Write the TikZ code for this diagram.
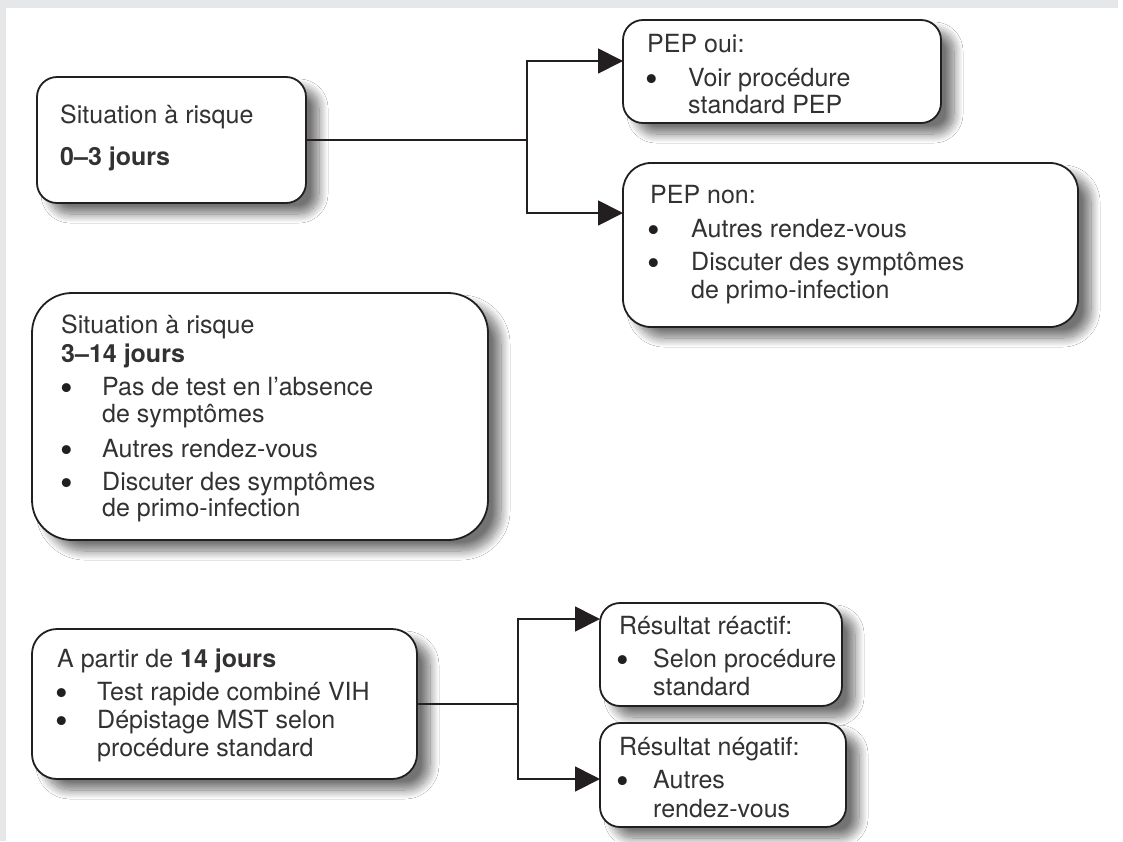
\documentclass[tikz,border=0pt]{standalone}
\usepackage{fontspec}
\setmainfont{TeX Gyre Heros}
\usetikzlibrary{arrows.meta,shadows.blur}
\definecolor{bggray}{HTML}{E6E7E8}
\definecolor{ink}{HTML}{231F20}
\definecolor{txtc}{HTML}{333132}
\begin{document}
\begin{tikzpicture}[x=1pt,y=-1pt,
  box/.style={draw=ink, line width=1.8pt, fill=white, rectangle, anchor=north west,
    inner sep=0pt, outer sep=0pt,
    blur shadow={shadow xshift=13pt, shadow yshift=-11pt, shadow blur radius=9pt,
      shadow blur steps=14, shadow opacity=55}},
  txt/.style={anchor=base west, inner sep=0pt, text=txtc, font=\fontsize{25}{29}\selectfont},
  bul/.style={anchor=center, inner sep=0pt, yshift=-6pt, text=ink, font=\fontsize{36}{36}\selectfont},
  conn/.style={draw=ink, line width=1.8pt},
  arr/.style={conn, {Triangle[length=25pt,width=25pt]}-{Triangle[length=25pt,width=25pt]}}]

\useasboundingbox (0,0) rectangle (1123,841);
\fill[white] (0,0) rectangle (1123,841);
\fill[bggray] (0,0) rectangle (1118,8);
\fill[bggray] (0,0) rectangle (6,841);

% boxes
\node[box, rounded corners=20pt, minimum width=269pt, minimum height=126pt] (b1) at (37,77) {};
\node[box, rounded corners=20pt, minimum width=318pt, minimum height=103pt] (b2) at (623,20) {};
\node[box, rounded corners=28pt, minimum width=455pt, minimum height=164pt] (b3) at (623,163) {};
\node[box, rounded corners=40pt, minimum width=456pt, minimum height=247pt] (b4) at (32,293) {};
\node[box, rounded corners=25pt, minimum width=385pt, minimum height=150pt] (b5) at (32,629) {};
\node[box, rounded corners=20pt, minimum width=242pt, minimum height=103pt] (b6) at (600,603) {};
\node[box, rounded corners=20pt, minimum width=246pt, minimum height=104pt] (b7) at (600,723) {};

% junctions
\coordinate (j1t) at (527,61);
\coordinate (j1b) at (527,213);
\coordinate (j2t) at (518,619);
\coordinate (j2b) at (518,779);

\draw[conn] (b1.east) -- (b1.east -| j1t);
\draw[arr] (j1t -| b2.west) -- (j1t) -- (j1b) -- (j1b -| b3.west);
\draw[conn] (b5.east) -- (b5.east -| j2t);
\draw[arr] (j2t -| b6.west) -- (j2t) -- (j2b) -- (j2b -| b7.west);

% box 1
\node[txt] (t11) at (60,123) {Situation à risque};
\node[txt] (t12) at (60,165) {\bfseries 0–3 jours};

% box 2
\node[txt] (t21) at (647,52) {PEP oui:};
\node[bul] (u21) at (652,77) {•};
\node[txt] (t22) at (688,86) {Voir procédure};
\node[txt] (t23) at (688,113) {standard PEP};

% box 3
\node[txt] (t31) at (650,203) {PEP non:};
\node[bul] (u31) at (654,228) {•};
\node[txt] (t32) at (691,237) {Autres rendez-vous};
\node[bul] (u32) at (654,261) {•};
\node[txt] (t33) at (691,270) {Discuter des symptômes};
\node[txt] (t34) at (691,298) {de primo-infection};

% box 4
\node[txt] (t41) at (61,333) {Situation à risque};
\node[txt] (t42) at (61,362) {\bfseries 3–14 jours};
\node[bul] (u41) at (67,386) {•};
\node[txt] (t43) at (102,395) {Pas de test en l’absence};
\node[txt] (t44) at (102,422) {de symptômes};
\node[bul] (u42) at (67,448) {•};
\node[txt] (t45) at (102,457) {Autres rendez-vous};
\node[bul] (u43) at (67,481) {•};
\node[txt] (t46) at (102,490) {Discuter des symptômes};
\node[txt] (t47) at (102,516) {de primo-infection};

% box 5
\node[txt] (t51) at (57,667) {A partir de \textbf{14 jours}};
\node[bul] (u51) at (62,691) {•};
\node[txt] (t52) at (97,700) {Test rapide combiné VIH};
\node[bul] (u52) at (62,719) {•};
\node[txt] (t53) at (97,728) {Dépistage MST selon};
\node[txt] (t54) at (97,756) {procédure standard};

% box 6
\node[txt] (t61) at (619,634) {Résultat réactif:};
\node[bul] (u61) at (623,658) {•};
\node[txt] (t62) at (653,667) {Selon procédure};
\node[txt] (t63) at (653,695) {standard};

% box 7
\node[txt] (t71) at (619,755) {Résultat négatif:};
\node[bul] (u71) at (623,779) {•};
\node[txt] (t72) at (653,788) {Autres};
\node[txt] (t73) at (653,817) {rendez-vous};
\end{tikzpicture}
\end{document}
